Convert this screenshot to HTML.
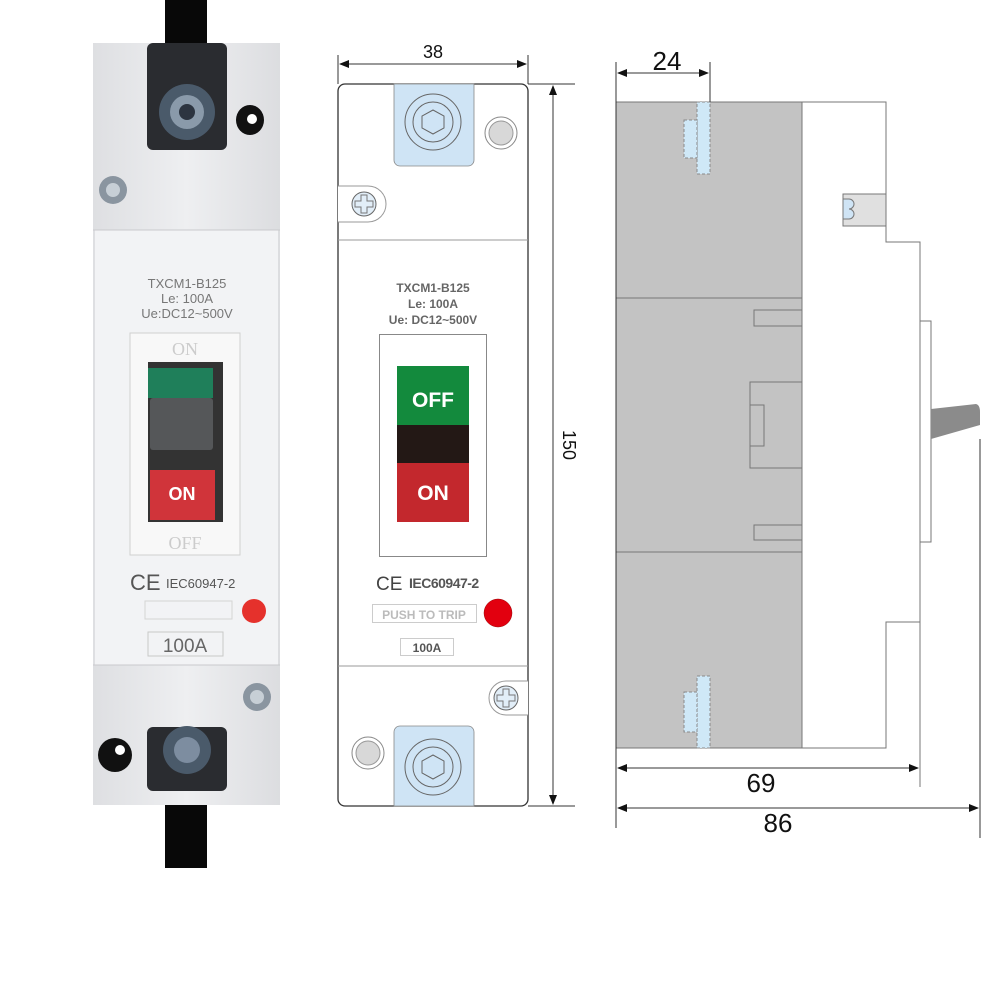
<!DOCTYPE html>
<html><head><meta charset="utf-8"><style>
html,body{margin:0;padding:0;background:#fff;}
svg{display:block;font-family:"Liberation Sans",Arial,sans-serif;}
</style></head><body>
<svg width="1001" height="1001" viewBox="0 0 1001 1001" xmlns="http://www.w3.org/2000/svg">
<defs>
<marker id="ar" markerWidth="10" markerHeight="8" refX="9" refY="4" orient="auto-start-reverse" markerUnits="userSpaceOnUse"><path d="M0,0 L10,4 L0,8 z" fill="#111"/></marker>
<linearGradient id="bodyg" x1="0" x2="1"><stop offset="0" stop-color="#dedfe2"/><stop offset="0.5" stop-color="#eeeff1"/><stop offset="1" stop-color="#dcdde0"/></linearGradient>
</defs>
<rect width="1001" height="1001" fill="#fff"/>

<!-- ===== PHOTO ===== -->
<rect x="165" y="0" width="42" height="868" fill="#080808"/>
<rect x="93" y="43" width="187" height="762" fill="url(#bodyg)"/>
<rect x="95" y="230" width="183" height="435" fill="#f2f3f5"/>
<line x1="93" y1="230" x2="280" y2="230" stroke="#c9cacd"/>
<line x1="93" y1="665" x2="280" y2="665" stroke="#c9cacd"/>
<!-- top terminal -->
<rect x="147" y="43" width="80" height="107" rx="6" fill="#2a2c30"/>
<circle cx="187" cy="112" r="28" fill="#4a5a6a"/>
<circle cx="187" cy="112" r="17" fill="#8a9aaa"/>
<circle cx="187" cy="112" r="8" fill="#2c3440"/>
<ellipse cx="250" cy="120" rx="14" ry="15" fill="#111"/><circle cx="252" cy="119" r="5" fill="#fff"/>
<circle cx="113" cy="190" r="14" fill="#8a95a0"/><circle cx="113" cy="190" r="7" fill="#c7cfd6"/>
<text x="187" y="288" font-size="13" fill="#777" text-anchor="middle">TXCM1-B125</text>
<text x="187" y="303" font-size="13" fill="#777" text-anchor="middle">Le: 100A</text>
<text x="187" y="318" font-size="13" fill="#777" text-anchor="middle">Ue:DC12~500V</text>
<!-- window -->
<rect x="130" y="333" width="110" height="222" fill="#f8f8f8" stroke="#d0d0d0"/>
<rect x="148" y="362" width="75" height="160" fill="#333"/>
<rect x="148" y="368" width="65" height="30" fill="#1f7f5a"/>
<rect x="150" y="398" width="63" height="52" rx="3" fill="#555759"/>
<rect x="150" y="470" width="65" height="50" fill="#d0343a"/>
<text x="182" y="500" font-size="18" font-weight="bold" fill="#fff" text-anchor="middle">ON</text>
<text x="185" y="355" font-size="18" fill="#ccc" text-anchor="middle" font-family="Liberation Serif">ON</text>
<text x="185" y="549" font-size="18" fill="#ccc" text-anchor="middle" font-family="Liberation Serif">OFF</text>
<text x="130" y="590" font-size="22" fill="#555">CE</text>
<text x="166" y="588" font-size="13" fill="#555">IEC60947-2</text>
<rect x="145" y="601" width="87" height="18" fill="none" stroke="#d4d4d4"/>
<circle cx="254" cy="611" r="12" fill="#e5312c"/>
<rect x="148" y="632" width="75" height="24" fill="none" stroke="#c8c8c8"/>
<text x="185" y="652" font-size="19" fill="#666" text-anchor="middle">100A</text>
<circle cx="257" cy="697" r="14" fill="#8a95a0"/><circle cx="257" cy="697" r="7" fill="#c7cfd6"/>
<rect x="147" y="727" width="80" height="64" rx="6" fill="#2a2c30"/>
<circle cx="187" cy="750" r="24" fill="#4a5a6a"/><circle cx="187" cy="750" r="13" fill="#7d8da0"/>
<ellipse cx="115" cy="755" rx="17" ry="17" fill="#111"/><circle cx="120" cy="750" r="5" fill="#fff"/>

<!-- ===== MIDDLE DRAWING ===== -->
<g stroke="#333" stroke-width="1" fill="none">
<line x1="338" y1="55" x2="338" y2="84"/><line x1="528" y1="55" x2="528" y2="84"/>
<line x1="340" y1="64" x2="526" y2="64" marker-start="url(#ar)" marker-end="url(#ar)"/>
<line x1="528" y1="84" x2="575" y2="84"/><line x1="528" y1="806" x2="575" y2="806"/>
<line x1="553" y1="86" x2="553" y2="804" marker-start="url(#ar)" marker-end="url(#ar)"/>
<rect x="338" y="84" width="190" height="722" rx="7" stroke-width="1.3"/>
<line x1="338" y1="240" x2="528" y2="240" stroke="#999"/>
<line x1="338" y1="666" x2="528" y2="666" stroke="#999"/>
</g>
<text x="433" y="58" font-size="18" fill="#111" text-anchor="middle">38</text>
<text transform="translate(563,445) rotate(90)" font-size="18" fill="#111" text-anchor="middle">150</text>
<path d="M394,84 H474 V160 a6,6 0 0 1 -6,6 H400 a6,6 0 0 1 -6,-6 Z" fill="#cfe4f5" stroke="#888" stroke-width="0.8"/>
<circle cx="433" cy="122" r="28" fill="none" stroke="#666"/>
<circle cx="433" cy="122" r="20" fill="none" stroke="#666"/>
<polygon points="433,110 444,116 444,128 433,134 422,128 422,116" fill="none" stroke="#666"/>
<circle cx="501" cy="133" r="16" fill="#fff" stroke="#888"/><circle cx="501" cy="133" r="12" fill="#d8d8d8" stroke="#999"/>
<path d="M338,186 H368 a18,18 0 0 1 0,36 H338" fill="#fff" stroke="#999"/>
<circle cx="364" cy="204" r="12" fill="#e2eef8" stroke="#666"/>
<path d="M361,195 h6 v6 h6 v6 h-6 v6 h-6 v-6 h-6 v-6 h6 z" fill="none" stroke="#777"/>
<text x="433" y="292" font-size="12" font-weight="bold" fill="#666" text-anchor="middle">TXCM1-B125</text>
<text x="433" y="308" font-size="12" font-weight="bold" fill="#666" text-anchor="middle">Le: 100A</text>
<text x="433" y="324" font-size="12" font-weight="bold" fill="#666" text-anchor="middle">Ue: DC12~500V</text>
<rect x="379.5" y="334.5" width="107" height="222" fill="#fff" stroke="#888"/>
<rect x="397" y="366" width="72" height="60" fill="#138a3d"/>
<rect x="397" y="425" width="72" height="39" fill="#231815"/>
<rect x="397" y="463" width="72" height="59" fill="#c3282d"/>
<text x="433" y="407" font-size="21" font-weight="bold" fill="#fff" text-anchor="middle">OFF</text>
<text x="433" y="500" font-size="21" font-weight="bold" fill="#fff" text-anchor="middle">ON</text>
<text x="376" y="590" font-size="19" fill="#444">CE</text>
<text x="409" y="588" font-size="14" font-weight="bold" fill="#555" letter-spacing="-0.5">IEC60947-2</text>
<rect x="372.5" y="604.5" width="104" height="18" fill="none" stroke="#ccc"/>
<text x="424" y="619" font-size="12" font-weight="bold" fill="#bbb" text-anchor="middle">PUSH TO TRIP</text>
<circle cx="498" cy="613" r="14" fill="#e2000f" stroke="#900" stroke-width="0.5"/>
<rect x="400.5" y="638.5" width="53" height="17" fill="none" stroke="#ccc"/>
<text x="427" y="652" font-size="12" font-weight="bold" fill="#555" text-anchor="middle">100A</text>
<path d="M528,681 H506 a17,17 0 0 0 0,34 H528" fill="#fff" stroke="#999"/>
<circle cx="506" cy="698" r="12" fill="#e2eef8" stroke="#666"/>
<path d="M503,689 h6 v6 h6 v6 h-6 v6 h-6 v-6 h-6 v-6 h6 z" fill="none" stroke="#777"/>
<circle cx="368" cy="753" r="16" fill="#fff" stroke="#888"/><circle cx="368" cy="753" r="12" fill="#d8d8d8" stroke="#999"/>
<path d="M394,806 V732 a6,6 0 0 1 6,-6 H468 a6,6 0 0 1 6,6 V806 Z" fill="#cfe4f5" stroke="#888" stroke-width="0.8"/>
<circle cx="433" cy="767" r="28" fill="none" stroke="#666"/>
<circle cx="433" cy="767" r="20" fill="none" stroke="#666"/>
<polygon points="433,755 444,761 444,773 433,779 422,773 422,761" fill="none" stroke="#666"/>

<!-- ===== RIGHT DRAWING ===== -->
<rect x="616" y="102" width="186" height="646" fill="#c3c3c3" stroke="#777"/>
<line x1="616" y1="298" x2="802" y2="298" stroke="#777"/>
<line x1="616" y1="552" x2="802" y2="552" stroke="#777"/>
<g stroke="#777" fill="none">
<rect x="754" y="310" width="48" height="16"/>
<rect x="750" y="382" width="52" height="86"/>
<rect x="750" y="405" width="14" height="41"/>
<rect x="754" y="525" width="48" height="15"/>
</g>
<path d="M802,102 H886 V242 H920 V787" fill="none" stroke="#777"/>
<path d="M802,748 H886 V622 H920" fill="none" stroke="#777"/>
<rect x="843" y="194" width="43" height="32" fill="#e0e0e0" stroke="#777"/>
<path d="M843,199 h6 a3,3 0 0 1 0,10 a3,3 0 0 1 0,10 h-6z" fill="#cfe4f5" stroke="#777"/>
<rect x="920" y="321" width="11" height="221" fill="#fff" stroke="#777"/>
<path d="M931,409 L976,404 Q980,405 980,412 V425 L931,439 Z" fill="#8b8b8b"/>
<g fill="#cfe8f7" stroke="#888" stroke-dasharray="3,2">
<rect x="697" y="102" width="13" height="72"/>
<rect x="684" y="120" width="13" height="38"/>
<rect x="697" y="676" width="13" height="72"/>
<rect x="684" y="692" width="13" height="40"/>
</g>
<g stroke="#333" stroke-width="1" fill="none">
<line x1="616" y1="62" x2="616" y2="828"/>
<line x1="710" y1="62" x2="710" y2="102"/>
<line x1="618" y1="73" x2="708" y2="73" marker-start="url(#ar)" marker-end="url(#ar)"/>
<line x1="618" y1="768" x2="918" y2="768" marker-start="url(#ar)" marker-end="url(#ar)"/>
<line x1="980" y1="439" x2="980" y2="838"/>
<line x1="618" y1="808" x2="978" y2="808" marker-start="url(#ar)" marker-end="url(#ar)"/>
</g>
<text x="667" y="70" font-size="26" fill="#111" text-anchor="middle">24</text>
<text x="761" y="792" font-size="26" fill="#111" text-anchor="middle">69</text>
<text x="778" y="832" font-size="26" fill="#111" text-anchor="middle">86</text>
</svg>
</body></html>
